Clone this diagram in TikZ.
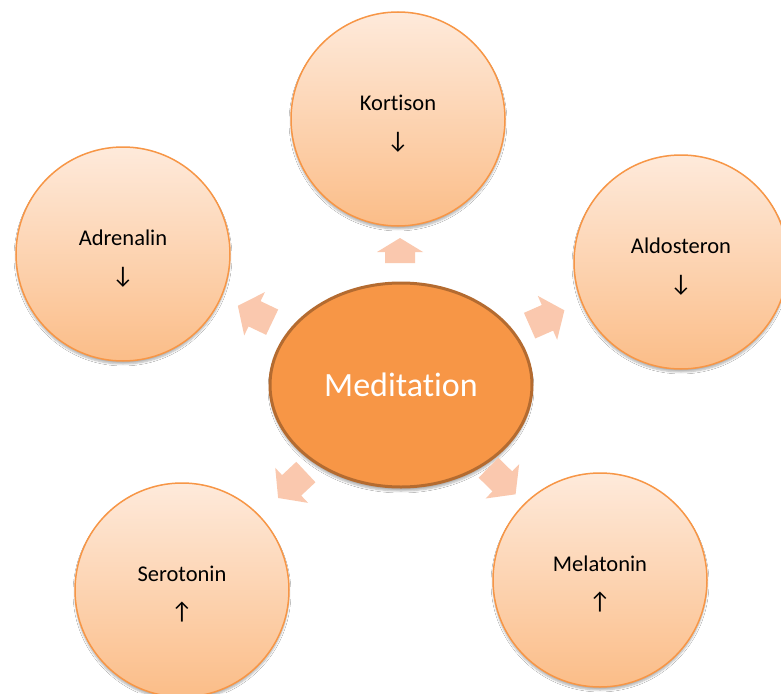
\documentclass[tikz,border=0pt]{standalone}
\usepackage{fontspec}
\setmainfont{Carlito}[Ligatures={NoCommon,NoRare,NoContextual},Contextuals=NoAlternate]
\usetikzlibrary{shadows.blur,shapes.geometric}
\definecolor{ringorange}{HTML}{F79646}
\definecolor{toplight}{HTML}{FEEADB}
\definecolor{botdark}{HTML}{FBBD88}
\definecolor{centerfill}{HTML}{F79646}
\definecolor{centerborder}{HTML}{B46B30}
\definecolor{arrowfill}{HTML}{FAC8AE}
\newcommand{\dnarr}{{\fontsize{24}{38}\selectfont ↓}}
\newcommand{\uparr}{{\fontsize{24}{38}\selectfont ↑}}
\newcommand{\topstrut}{\rule{0pt}{24pt}}
\tikzset{
  outer/.style={circle, minimum size=214pt, inner sep=0pt, draw=ringorange, line width=1.5pt,
    top color=toplight, bottom color=botdark, align=center,
    font=\fontsize{22.5}{38}\selectfont,
    blur shadow={shadow xshift=0pt, shadow yshift=-3pt, shadow blur steps=6, shadow opacity=30}},
  centre/.style={ellipse, minimum width=262pt, minimum height=204pt, inner sep=0pt,
    draw=centerborder, line width=3pt, fill=centerfill, text=white,
    font=\fontsize{34}{40}\selectfont,
    blur shadow={shadow xshift=0pt, shadow yshift=-4pt, shadow blur steps=6, shadow opacity=30}},
  blockarr/.pic={\fill[arrowfill] (-19,-14)--(0.5,-14)--(0.5,-24)--(19,0)--(0.5,24)--(0.5,14)--(-19,14)--cycle;},
  blockarrshort/.pic={\fill[arrowfill] (-12.5,-15)--(-1.5,-15)--(-1.5,-23)--(12.5,0)--(-1.5,23)--(-1.5,15)--(-12.5,15)--cycle;}
}
\begin{document}
\begin{tikzpicture}[x=1pt,y=1pt]
\clip (0,0) rectangle (781,-693);
\fill[white] (0,0) rectangle (781,-693);
\node[centre] (med) at (401,-385) {Meditation};
\node[outer] (kor) at (398,-119) {\topstrut Kortison\\\dnarr};
\node[outer] (adr) at (123,-254) {\topstrut Adrenalin\\\dnarr};
\node[outer] (ald) at (681,-262) {\topstrut Aldosteron\\\dnarr};
\node[outer] (ser) at (182,-590) {\topstrut Serotonin\\\uparr};
\node[outer] (mel) at (600,-580) {\topstrut Melatonin\\\uparr};
\pic[rotate=90] at (400,-250.5) {blockarrshort};
\pic[rotate=154.5] at (255,-314) {blockarr};
\pic[rotate=23.8] at (547,-318) {blockarr};
\pic[rotate=-136.9] at (292,-485) {blockarr};
\pic[rotate=-44.4] at (502,-481) {blockarr};
\end{tikzpicture}
\end{document}
